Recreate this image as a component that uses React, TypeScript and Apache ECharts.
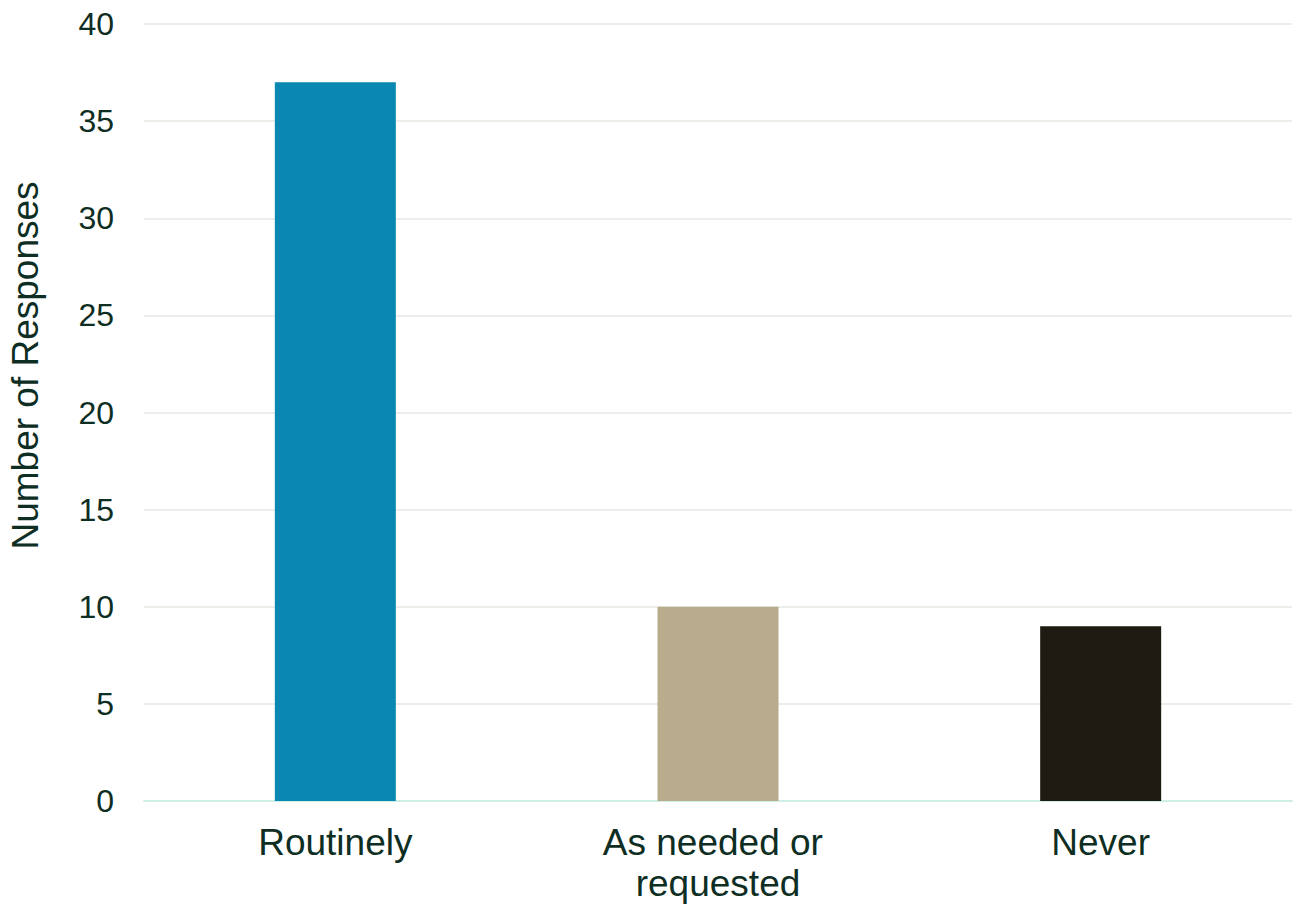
import React, { useEffect, useRef } from "react";
import * as echarts from "echarts";

const categories = ["Routinely", "As needed or requested", "Never"];
const responses = [37, 10, 9];
const barColors = ["#0A88B2", "#B8AC8D", "#1E1B13"];
const yTicks = { min: 0, max: 40, interval: 5 };

const TEXT = "#0E2D23";
const FONT = "'Liberation Sans', Arial, sans-serif";

export default function App() {
  const ref = useRef<HTMLDivElement>(null);
  useEffect(() => {
    if (!ref.current) return;
    const chart = echarts.init(ref.current, undefined, { renderer: "svg" });
    chart.setOption({
      animation: false,
      backgroundColor: "#ffffff",
      grid: {
        left: 144,
        right: 7,
        top: 24,
        bottom: 105,
        containLabel: false,
        outerBoundsMode: "none",
      },
      xAxis: {
        type: "category",
        data: categories,
        axisLine: { show: true, lineStyle: { color: "#CDEFE5", width: 2 } },
        axisTick: { show: false },
        axisLabel: {
          color: TEXT,
          fontFamily: FONT,
          fontSize: 37,
          lineHeight: 41,
          margin: 21,
          width: 280,
          overflow: "break",
          interval: 0,
        },
      },
      yAxis: {
        type: "value",
        min: yTicks.min,
        max: yTicks.max,
        interval: yTicks.interval,
        name: "Number of Responses",
        nameLocation: "middle",
        nameGap: 100,
        nameTextStyle: { color: TEXT, fontFamily: FONT, fontSize: 37, padding: [0, 0, 0, 94] },
        axisLine: { show: false },
        axisTick: { show: false },
        axisLabel: { color: TEXT, fontFamily: FONT, fontSize: 32, margin: 30 },
        splitLine: { lineStyle: { color: "#E6E9E2", width: 1.5 } },
      },
      series: [
        {
          type: "bar",
          data: responses.map((v, i) => ({ value: v, itemStyle: { color: barColors[i] } })),
          barWidth: 121,
        },
      ],
    });
    return () => chart.dispose();
  }, []);
  return (
    <div
      ref={ref}
      style={{ position: "absolute", left: 0, top: 0, width: 1299, height: 906 }}
    />
  );
}
